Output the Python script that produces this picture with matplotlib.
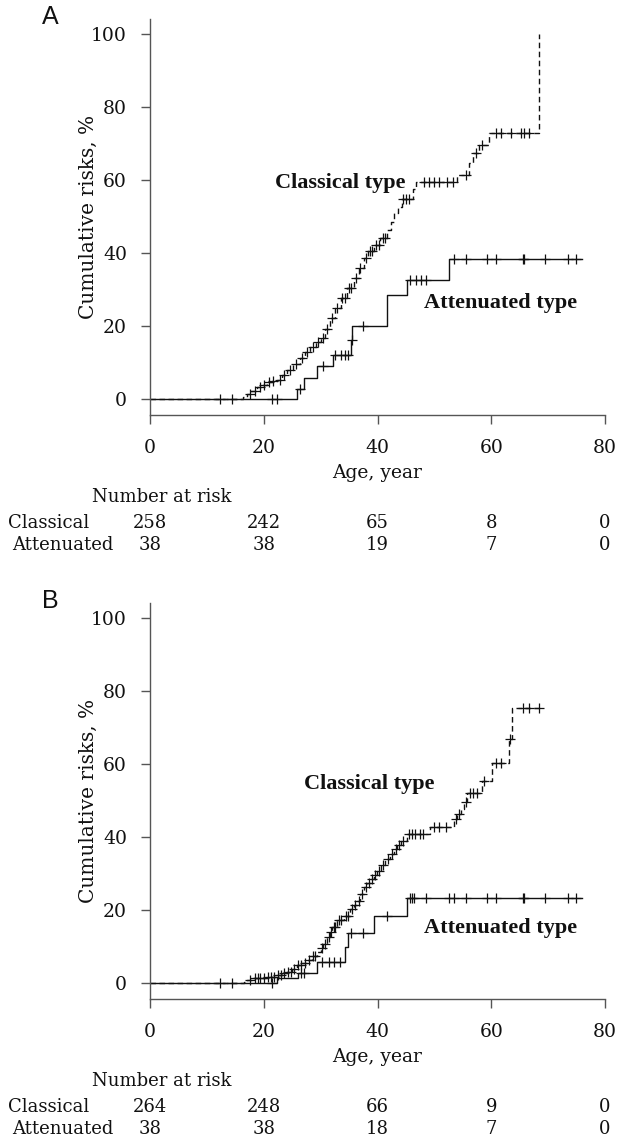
import matplotlib
matplotlib.use('Agg')
import matplotlib.pyplot as plt
import matplotlib.transforms as mtransforms
import numpy as np

# ---- data (age in years, cumulative risk in %) ----
# Panel A
a_classical_age = [0, 16.4, 17.0, 17.8, 18.8, 19.6, 20.6, 21.4, 22.3, 23.2,
                   24.1, 25.2, 26.4, 27.3, 28.2, 29.1, 30.0, 30.8, 31.7, 32.6,
                   33.5, 34.6, 35.8, 36.7, 37.6, 38.4, 39.3, 40.5, 41.7, 42.3,
                   42.9, 43.6, 44.3, 46.3, 46.8, 54.0, 56.1, 56.8, 57.8, 59.6,
                   68.4]
a_classical_risk = [0, 0.6, 1.3, 2.2, 3.4, 4.0, 4.7, 5.0, 5.2, 6.5,
                    7.9, 9.5, 11.2, 12.8, 14.3, 15.5, 16.6, 19.3, 22.1, 24.8,
                    27.6, 30.3, 33.1, 35.8, 38.5, 40.4, 42.2, 44.2, 46.3, 48.5,
                    50.9, 52.5, 54.8, 57.5, 59.5, 61.4, 64.6, 67.3, 69.6, 72.8,
                    100]
a_classical_cens = [12.3, 14.4, 17.6, 18.4, 19.3, 20.0, 20.9, 21.6, 22.8, 23.6,
                    24.6, 25.6, 26.8, 27.6, 28.6, 29.5, 30.4, 31.2, 32.0, 32.9,
                    33.8, 34.2, 35.0, 35.4, 36.2, 37.0, 37.9, 38.7, 39.0, 39.7,
                    40.2, 40.9, 41.3, 44.5, 45.0, 45.6, 48.2, 49.1, 50.0, 50.8,
                    52.3, 53.2, 55.5, 57.3, 58.4, 60.8, 61.7, 63.4, 65.2, 65.8,
                    66.7]
a_atten_age = [0, 25.8, 27.0, 29.3, 32.1, 35.4, 35.6, 41.6, 45.2, 52.6, 75.9]
a_atten_risk = [0, 2.9, 5.8, 9.0, 12.2, 16.2, 20.0, 28.5, 32.6, 38.3, 38.3]
a_atten_cens = [21.4, 22.3, 26.3, 30.4, 32.6, 33.5, 34.2, 34.9, 35.5, 37.4,
                45.8, 46.7, 47.6, 48.5, 53.4, 55.5, 59.3, 60.8, 65.6, 65.8,
                69.4, 73.5, 74.9]
a_risk_classical = [258, 242, 65, 8, 0]
a_risk_atten = [38, 38, 19, 7, 0]

# Panel B
b_classical_age = [0, 16.5, 17.0, 18.0, 18.8, 20.6, 22.3, 23.2, 24.1, 25.0,
                   25.8, 26.7, 27.6, 28.5, 29.4, 30.0, 30.5, 31.1, 31.6, 32.0,
                   32.9, 34.1, 35.2, 35.8, 36.4, 37.0, 37.6, 38.2, 38.8, 39.3,
                   39.9, 40.6, 41.4, 42.2, 42.9, 43.5, 44.1, 45.2, 49.3, 53.4,
                   54.0, 54.6, 55.2, 55.8, 58.4, 60.2, 63.1, 63.6, 69.0]
b_classical_risk = [0, 0.4, 0.8, 1.3, 1.5, 1.7, 2.2, 2.7, 3.1, 4.0,
                    4.9, 5.6, 6.3, 7.4, 8.5, 9.6, 10.8, 12.6, 14.0, 15.3,
                    17.2, 18.5, 20.4, 21.5, 22.6, 24.4, 26.2, 27.3, 28.5, 29.6,
                    30.8, 32.4, 34.0, 35.3, 36.7, 37.8, 39.0, 40.8, 42.6, 44.9,
                    46.2, 47.6, 49.6, 52.1, 55.3, 60.3, 66.9, 75.3, 75.3]
b_classical_cens = [12.3, 14.4, 17.5, 18.4, 19.0, 19.4, 20.0, 20.8, 21.2, 21.8,
                    22.5, 23.0, 23.6, 24.3, 24.8, 25.4, 26.0, 26.5, 27.2, 27.9,
                    28.6, 29.0, 30.2, 30.8, 31.4, 31.8, 32.3, 32.6, 33.2, 33.6,
                    34.4, 34.8, 35.5, 36.0, 36.7, 37.2, 37.9, 38.5, 39.0, 39.6,
                    40.2, 41.0, 41.8, 42.5, 43.2, 43.8, 44.5, 45.6, 46.0, 46.6,
                    47.4, 48.0, 50.0, 50.8, 52.0, 53.8, 54.3, 55.5, 56.2, 56.8,
                    57.5, 58.8, 60.8, 61.7, 63.3, 65.5, 66.7, 68.4]
b_atten_age = [0, 22.3, 26.1, 29.4, 34.3, 34.9, 39.3, 45.2, 75.9]
b_atten_risk = [0, 1.3, 2.8, 5.8, 9.9, 13.8, 18.5, 23.4, 23.4]
b_atten_cens = [21.4, 26.5, 27.0, 30.3, 31.4, 32.4, 33.4, 35.4, 37.4, 41.6,
                45.7, 46.1, 46.5, 48.5, 52.6, 53.4, 55.5, 59.3, 60.8, 65.6,
                65.8, 69.4, 73.5, 74.9]
b_risk_classical = [264, 248, 66, 9, 0]
b_risk_atten = [38, 38, 18, 7, 0]

risk_ages = [0, 20, 40, 60, 80]
xticks = [0, 20, 40, 60, 80]
yticks = [0, 20, 40, 60, 80, 100]

W, H = 618, 1140
SERIF = 'DejaVu Serif'
INK = '#111111'
AXC = '#555555'
FS = 13

fig = plt.figure(figsize=(W / 100, H / 100), dpi=100)


def step_value(ages, risks, x):
    # value of the step curve at x (right-continuous)
    idx = np.searchsorted(ages, x, side='right') - 1
    return np.asarray(risks)[idx]


def panel(rect, letter, c_age, c_risk, c_cens, t_age, t_risk, t_cens,
          n_classical, n_atten, c_lab, t_lab):
    ax = fig.add_axes(rect)
    # classical: dashed step curve
    ax.plot(c_age, c_risk, drawstyle='steps-post', color=INK, lw=1.0,
            linestyle=(0, (4, 2.5)))
    ax.plot(c_cens, step_value(c_age, c_risk, c_cens), '+', color=INK,
            ms=7.5, mew=0.9)
    # attenuated: solid step curve
    ax.plot(t_age, t_risk, drawstyle='steps-post', color=INK, lw=1.0)
    ax.plot(t_cens, step_value(t_age, t_risk, t_cens), '+', color=INK,
            ms=7.5, mew=0.9)

    ax.set_xlim(0, 80)
    ax.set_ylim(-4.2, 104)
    ax.set_xticks(xticks)
    ax.set_yticks(yticks)
    for s in ('top', 'right'):
        ax.spines[s].set_visible(False)
    for s in ('left', 'bottom'):
        ax.spines[s].set_color(AXC)
        ax.spines[s].set_linewidth(1.0)
    ax.tick_params(axis='both', direction='out', length=6.5, width=1.0,
                   color=AXC, labelsize=13.5, labelcolor=INK)
    ax.tick_params(axis='x', pad=11)
    ax.tick_params(axis='y', pad=10)
    for lab in ax.get_xticklabels() + ax.get_yticklabels():
        lab.set_family(SERIF)

    ax.text(c_lab[0], c_lab[1], 'Classical type', family='Liberation Serif',
            fontweight='bold', fontsize=16, color=INK, ha='left', va='center')
    ax.text(t_lab[0], t_lab[1], 'Attenuated type', family='Liberation Serif',
            fontweight='bold', fontsize=16, color=INK, ha='left', va='center')

    # texts below the axis, positioned in pixels under the bottom spine
    bottom_px = H * (1 - rect[1])
    xt = mtransforms.blended_transform_factory(ax.transData, fig.transFigure)

    def fy(off):
        return 1 - (bottom_px + off) / H

    ax.text(40, fy(59), 'Age, year', transform=xt, family=SERIF,
            fontsize=13.5, color=INK, ha='center', va='center')
    fig.text(162 / W, fy(83), 'Number at risk', family=SERIF, fontsize=FS,
             color=INK, ha='center', va='center')
    fig.text(8 / W, fy(109), 'Classical', family=SERIF, fontsize=FS,
             color=INK, ha='left', va='center')
    fig.text(12 / W, fy(131), 'Attenuated', family=SERIF, fontsize=FS,
             color=INK, ha='left', va='center')
    for a, n1, n2 in zip(risk_ages, n_classical, n_atten):
        ax.text(a, fy(109), str(n1), transform=xt, family=SERIF,
                fontsize=FS, color=INK, ha='center', va='center')
        ax.text(a, fy(131), str(n2), transform=xt, family=SERIF,
                fontsize=FS, color=INK, ha='center', va='center')

    # y label
    yt = mtransforms.blended_transform_factory(fig.transFigure, ax.transAxes)
    ax.text(88 / W, 0.5, 'Cumulative risks, %', transform=yt, family=SERIF,
            fontsize=14.5, color=INK, rotation=90, ha='center', va='center')

    # panel letter
    top_px = H * (1 - rect[1] - rect[3])
    fig.text(50 / W, 1 - (top_px - 2) / H, letter, family='Liberation Sans',
             fontsize=18, color=INK, ha='center', va='center')
    return ax


left = 150 / W
width = (605 - 150) / W
hgt = 395.5 / H

panel([left, (H - 414.5) / H, width, hgt], 'A',
      a_classical_age, a_classical_risk, a_classical_cens,
      a_atten_age, a_atten_risk, a_atten_cens,
      a_risk_classical, a_risk_atten, (22.0, 59.2), (48.1, 26.3))

panel([left, (H - 998.5) / H, width, hgt], 'B',
      b_classical_age, b_classical_risk, b_classical_cens,
      b_atten_age, b_atten_risk, b_atten_cens,
      b_risk_classical, b_risk_atten, (27.0, 54.5), (48.1, 15.0))

fig.savefig('out.png', dpi=100)
